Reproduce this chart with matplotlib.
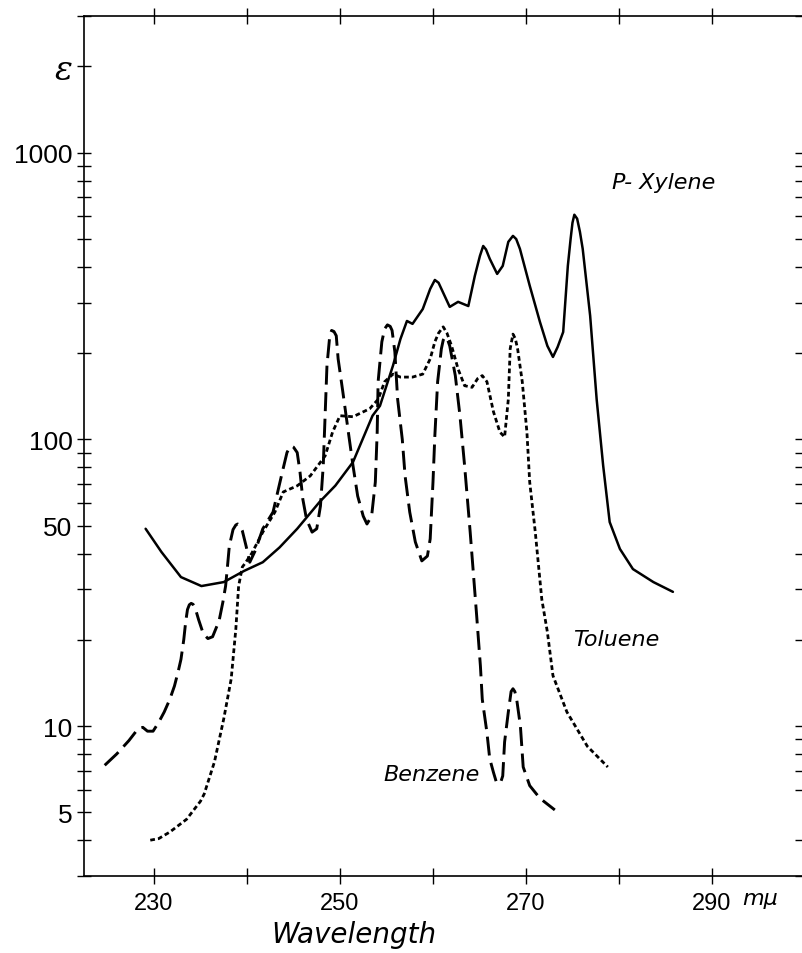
import numpy as np
import matplotlib
matplotlib.use("Agg")
import matplotlib.pyplot as plt
from matplotlib.ticker import FixedLocator, NullFormatter

# --- data (wavelength in m\u03bc, molar extinction) ---
benzene_wl = [224.7, 226.0, 227.3, 228.3, 228.8, 229.3, 229.9, 230.5, 231.1, 231.7,
              232.2, 232.6, 232.9, 233.2, 233.4, 233.6, 233.8, 234.0, 234.2, 234.4,
              234.8, 235.3, 235.8, 236.3, 237.0, 237.4, 237.7, 237.9, 238.1, 238.5,
              238.8, 239.0, 239.2, 239.5, 239.9, 240.3, 240.9, 241.7, 242.8, 243.8,
              244.3, 244.6, 244.8, 245.0, 245.4, 245.7, 246.0, 246.4, 247.0, 247.5,
              247.9, 248.2, 248.4, 248.6, 248.9, 249.1, 249.35, 249.6, 249.8, 250.3,
              250.9, 251.4, 251.9, 252.5, 252.9, 253.4, 253.8, 254.0, 254.1, 254.5,
              254.8, 255.1, 255.4, 255.6, 255.9, 256.2, 256.7, 257.0, 257.5, 258.1,
              258.8, 259.4, 259.7, 260.0, 260.2, 260.5, 260.9, 261.1, 261.3, 261.55,
              261.8, 262.4, 262.9, 263.4, 264.0, 264.7, 265.1, 265.3, 265.8, 266.1,
              266.5, 266.8, 267.0, 267.3, 267.5, 267.7, 268.1, 268.4, 268.6, 268.8,
              269.0, 269.4, 269.7, 270.4, 271.5, 273.1]
benzene_eps = [7.3, 8.0, 8.9, 9.8, 9.9, 9.6, 9.6, 10.3, 11.2, 12.4,
               13.8, 15.5, 17.1, 20.0, 23.0, 25.5, 26.5, 26.8, 26.6, 26.0,
               23.5, 21.0, 20.2, 20.5, 23.3, 27.0, 30.8, 36.0, 42.5, 48.5,
               50.3, 50.7, 50.2, 48.0, 42.5, 37.3, 41.0, 48.8, 55.8, 77.0,
               90.0, 94.0, 94.8, 94.0, 90.0, 77.0, 62.0, 52.7, 47.5, 48.8,
               58.6, 81.0, 121, 181, 230, 240, 238, 230, 191, 147,
               106, 81.0, 63.5, 54.0, 50.7, 54.0, 71.0, 106, 159, 219,
               243, 251, 248, 240, 202, 138, 100, 74.6, 55.8, 43.9,
               37.7, 39.2, 45.0, 71.0, 103, 159, 207, 222, 228, 224,
               212, 167, 121, 81.0, 47.5, 24.2, 16.2, 12.4, 9.5, 7.7,
               6.9, 6.4, 6.3, 6.4, 6.7, 8.8, 11.2, 13.2, 13.5, 13.2,
               12.4, 10.0, 7.2, 6.2, 5.6, 5.1]

toluene_wl = [229.6, 230.5, 231.7, 233.5, 235.0, 235.4, 236.5, 237.5, 238.3, 238.8,
              239.1, 239.5, 239.8, 240.5, 241.7, 243.0, 243.9, 245.4, 246.8, 248.4,
              249.2, 250.0, 251.4, 253.2, 254.1, 254.8, 255.7, 256.5, 257.8, 258.9,
              259.7, 260.2, 260.6, 261.1, 261.5, 262.0, 262.7, 263.4, 264.2, 264.8,
              265.3, 265.8, 266.5, 267.2, 267.7, 268.1, 268.3, 268.6, 268.85, 269.1,
              269.6, 270.1, 270.4, 271.0, 271.7, 272.3, 272.9, 274.4, 276.6, 278.8]
toluene_eps = [4.0, 4.05, 4.27, 4.73, 5.47, 5.8, 7.5, 10.6, 14.6, 21.8,
               30.8, 35.9, 37.0, 40.0, 47.5, 55.8, 65.6, 68.9, 74.6, 87.6,
               106, 121, 120, 128, 138, 159, 169, 165, 165, 169,
               191, 219, 235, 247, 235, 212, 176, 154, 152, 163,
               167, 159, 125, 106, 102, 138, 207, 233, 225, 207,
               159, 106, 71.0, 47.5, 27.7, 21.3, 15.0, 11.2, 8.5, 7.2]

xylene_wl = [229.1, 230.8, 232.9, 235.1, 237.5, 239.7, 241.7, 243.5, 245.4, 247.8,
             249.5, 251.4, 253.5, 254.3, 255.7, 256.5, 257.2, 257.8, 258.9, 259.7,
             260.2, 260.6, 261.0, 261.8, 262.7, 263.8, 264.5, 265.05, 265.4, 265.7,
             266.1, 266.9, 267.5, 268.1, 268.6, 268.95, 269.35, 270.4, 271.5, 272.3,
             272.9, 273.4, 274.0, 274.5, 274.8, 275.0, 275.2, 275.5, 275.8, 276.1,
             276.9, 277.6, 278.3, 279.0, 280.1, 281.5, 283.7, 285.8]
xylene_eps = [48.8, 40.5, 33.1, 30.8, 31.8, 34.8, 37.3, 42.0, 48.8, 60.5,
              69.0, 83.4, 121, 131, 181, 224, 259, 253, 285, 335,
              360, 352, 330, 290, 302, 292, 372, 437, 473, 460,
              427, 378, 403, 489, 513, 500, 462, 344, 257, 212,
              194, 210, 237, 403, 501, 570, 608, 589, 530, 462,
              270, 138, 81.0, 51.5, 41.5, 35.3, 31.8, 29.4]

x_ticks = [230, 240, 250, 260, 270, 280, 290]
x_labels = ["230", "", "250", "", "270", "", "290"]
y_major = [5, 10, 50, 100, 1000, 2000]
y_major_labels = ["5", "10", "50", "100", "1000", "\u03b5"]

num_font = ["Liberation Sans", "DejaVu Sans"]
hand_font = ["DejaVu Sans"]

fig = plt.figure(figsize=(8.02, 9.54), dpi=100)
ax = fig.add_axes([83.5 / 802, 1 - 877 / 954, (802 - 83.5) / 802, (877 - 17) / 954])

ax.plot(xylene_wl, xylene_eps, color="black", lw=1.8, solid_capstyle="round",
        solid_joinstyle="round")
ax.plot(benzene_wl, benzene_eps, color="black", lw=2.1, dashes=(6.5, 2.6))
ax.plot(toluene_wl, toluene_eps, color="black", lw=2.0, dashes=(1.7, 1.1))

ax.set_yscale("log")
ax.set_xlim(222.42, 299.68)
ax.set_ylim(3, 3000)

# ticks
ax.xaxis.set_major_locator(FixedLocator(x_ticks))
ax.set_xticklabels(x_labels, fontsize=17, family=num_font)
ax.tick_params(axis="x", which="major", direction="inout", length=11, width=1.0,
               top=True, bottom=True, pad=6)

minor = [m * 10 ** e for e in range(0, 4) for m in range(2, 10)]
minor = [v for v in minor if 3 <= v <= 3000 and v not in y_major]
ax.yaxis.set_major_locator(FixedLocator(y_major))
ax.yaxis.set_minor_locator(FixedLocator(minor))
ax.set_yticklabels(y_major_labels, fontsize=19, family=num_font)
ax.yaxis.set_minor_formatter(NullFormatter())
ax.tick_params(axis="y", which="both", direction="inout", length=10, width=1.0,
               left=True, right=False, pad=3)

# short inward ticks along the right edge
ax2 = ax.twinx()
ax2.set_yscale("log")
ax2.set_ylim(ax.get_ylim())
ax2.yaxis.set_major_locator(FixedLocator([10, 100, 1000]))
ax2.yaxis.set_minor_locator(FixedLocator(minor))
ax2.yaxis.set_major_formatter(NullFormatter())
ax2.yaxis.set_minor_formatter(NullFormatter())
ax2.tick_params(axis="y", which="both", direction="in", length=5, width=1.0,
                right=True, left=False)
for s in ax2.spines.values():
    s.set_visible(False)

ax.spines["right"].set_visible(False)
for s in ["left", "top", "bottom"]:
    ax.spines[s].set_linewidth(1.2)

# epsilon label drawn bigger, in place of the 2000 tick label
for lab in ax.get_yticklabels():
    if lab.get_text() == "\u03b5":
        lab.set_fontsize(24)
        lab.set_family(["DejaVu Serif"])
        lab.set_style("italic")

# text
ax.text(293.3, 10 ** (3 - (899 - 154) / 286.5), "m\u03bc", fontsize=16, style="italic",
        family=hand_font, va="center", ha="left", clip_on=False)
ax.text(251.5, 10 ** (3 - (935 - 154) / 286.5), "Wavelength", fontsize=20, style="italic",
        family=hand_font, va="center", ha="center", clip_on=False)

ax.text(279.2, 793, "P- Xylene", fontsize=16, style="italic", family=hand_font,
        va="center", ha="left")
ax.text(275.1, 20.1, "Toluene", fontsize=16, style="italic", family=hand_font,
        va="center", ha="left")
ax.text(254.7, 6.8, "Benzene", fontsize=16, style="italic", family=hand_font,
        va="center", ha="left")

fig.savefig("out.png", dpi=100)
